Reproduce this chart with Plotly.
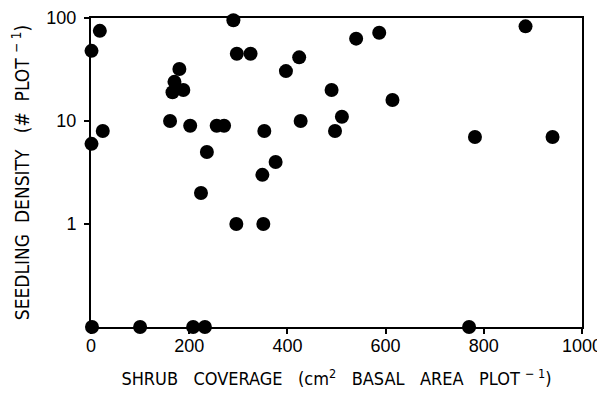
import plotly.graph_objects as go

# shrub coverage (cm2 basal area per plot)
shrub_coverage = [1, 18, 1, 24, 290, 297, 325, 180, 170, 166, 188, 161, 202, 256, 271,
                  236, 224, 353, 376, 349, 296, 351, 397, 424, 540, 587, 885, 490, 614,
                  427, 511, 497, 782, 940,
                  2, 100, 208, 232, 770]
# seedling density (# per plot); zero plots drawn on the axis floor (0.1)
seedling_density = [48, 75, 6, 8, 95, 45, 45, 32, 24, 19, 20, 10, 9, 9, 9,
                    5, 2, 8, 4, 3, 1, 1, 30.5, 41.5, 63, 72, 83, 20, 16,
                    10, 11, 8, 7, 7,
                    0.1, 0.1, 0.1, 0.1, 0.1]

x_ticks = [0, 200, 400, 600, 800, 1000]
y_ticks = [1, 10, 100]
y_tick_labels = ["1", "10", "100"]

NB = "\u00a0"
x_title = f"SHRUB{NB*3}COVERAGE{NB*3}(cm<sup>2</sup>{NB*3}BASAL{NB*3}AREA{NB*3}PLOT{NB}<sup>\u2212 1</sup>)"
y_title = f"SEEDLING{NB*2}DENSITY{NB*3}(#{NB*2}PLOT{NB}<sup>\u2212 1</sup>)"

fig = go.Figure(go.Scatter(
    x=shrub_coverage, y=seedling_density, mode="markers",
    marker=dict(color="black", size=14, line=dict(width=0)),
    cliponaxis=False, showlegend=False,
))

axis_common = dict(
    showline=True, linecolor="black", linewidth=2, mirror=True,
    ticks="outside", ticklen=5, tickwidth=1.5, tickcolor="black",
    showgrid=False, zeroline=False, automargin=False,
    tickfont=dict(family="Liberation Sans, Arial", size=18, color="black"),
)

title_family = "Liberation Sans Narrow, DejaVu Sans Condensed, Arial Narrow, Liberation Sans"

# the page body adds an 8px offset at left/top, so the figure is sized to compensate
fig.update_layout(
    width=597, height=386,
    margin=dict(l=83, r=23, t=10, b=67),
    paper_bgcolor="white", plot_bgcolor="white",
    font=dict(family="Liberation Sans, Arial", color="black"),
    xaxis=dict(range=[0, 1000], tickvals=x_ticks, **axis_common, ticklabelstandoff=-4,
               title=dict(text=x_title, font=dict(family=title_family, size=18, color="black"),
                          standoff=18)),
    yaxis=dict(type="log", range=[-1, 2], tickvals=y_ticks, ticktext=y_tick_labels,
               **axis_common, ticklabelstandoff=4,
               title=dict(text=y_title, font=dict(family=title_family, size=19, color="black"),
                          standoff=12)),
)

fig.write_html("out.html")
